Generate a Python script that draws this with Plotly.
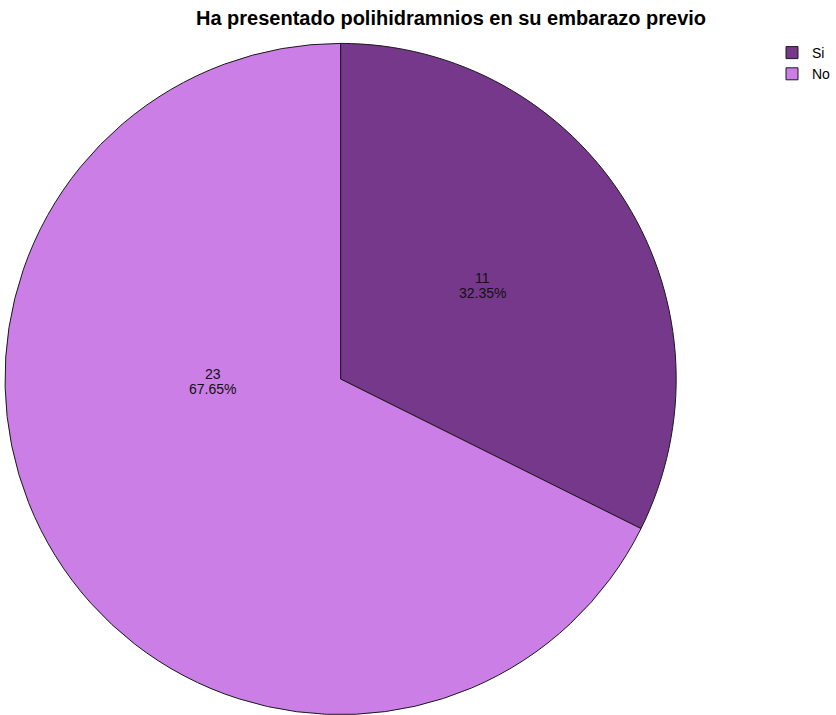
import plotly.graph_objects as go

# Data
categories = ["Si", "No"]
counts = [11, 23]
colors = ["#76388B", "#CB7EE5"]
title_text = "Ha presentado polihidramnios en su embarazo previo"

total = sum(counts)
percents = [c / total * 100 for c in counts]

W, H = 836, 715
cx, cy, r = 341, 379, 336  # pie centre / radius in pixels

fig = go.Figure(
    go.Pie(
        labels=categories,
        values=counts,
        sort=False,
        direction="clockwise",
        rotation=0,
        marker=dict(colors=colors, line=dict(color="#1a1a1a", width=1)),
        textinfo="none",
        hoverinfo="label+value+percent",
        domain=dict(
            x=[(cx - r) / W, (cx + r) / W],
            y=[(H - (cy + r)) / H, (H - (cy - r)) / H],
        ),
    )
)

# Value labels inside the slices: count on one line, percentage below it
label_pos = [(483, 278), (213, 374)]
line_gap = 15
label_font = dict(family="Liberation Sans, Arial", size=14, color="#111111")
for (x, y), c, p in zip(label_pos, counts, percents):
    for dy, txt in ((0, f"{c}"), (line_gap, f"{p:.2f}%")):
        fig.add_annotation(
            x=x / W, y=1 - (y + dy) / H, xref="paper", yref="paper",
            text=txt, showarrow=False, font=label_font,
            xanchor="center", yanchor="middle", align="center",
        )

fig.update_layout(
    width=W, height=H,
    margin=dict(l=0, r=0, t=0, b=0),
    paper_bgcolor="white", plot_bgcolor="white",
    title=dict(
        text=f"<b>{title_text}</b>",
        x=451 / W, xanchor="center", y=1 - 18 / H, yanchor="middle",
        font=dict(family="Liberation Sans, Arial", size=20, color="black"),
    ),
    legend=dict(
        x=0.925, xanchor="left", y=1 - 37 / H, yanchor="top",
        font=dict(family="Liberation Sans, Arial", size=14, color="black"),
        itemwidth=30, tracegroupgap=0,
        bgcolor="rgba(0,0,0,0)",
    ),
    showlegend=True,
)

fig.write_html("out.html")
